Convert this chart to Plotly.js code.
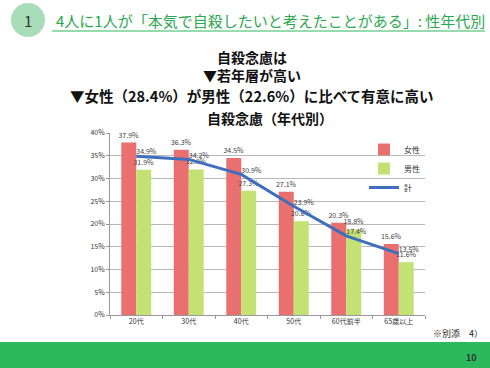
<!DOCTYPE html>
<html><head><meta charset="utf-8">
<script src="https://cdn.plot.ly/plotly-3.0.1.min.js"></script>
<style>html,body{margin:0;padding:0;background:#fff;}#c{width:490px;height:368px;}</style>
</head><body><div id="c"></div>
<script>
const categories = ["20代","30代","40代","50代","60代前半","65歳以上"];
const female = [37.9, 36.3, 34.5, 27.1, 20.3, 15.6];
const male = [31.9, 32.0, 27.3, 20.6, 18.8, 11.6];
const total = [34.9, 34.2, 30.9, 23.9, 17.4, 13.5];
const yTicks = [0,5,10,15,20,25,30,35,40];
const yTickText = yTicks.map(v => v + "%");
const fmt = a => a.map(v => v.toFixed(1) + "%");

const F = '"Noto Sans CJK JP", "Noto Sans", sans-serif';
const lblFont = {family: F, size: 7, color: "#404040"};

const traces = [
  {type:"bar", name:"女性", x:categories, y:female, marker:{color:"#ea7070"},
   text:fmt(female), textposition:"outside", constraintext:"none", textfont:lblFont, cliponaxis:false, hoverinfo:"none"},
  {type:"bar", name:"男性", x:categories, y:male, marker:{color:"#c4e274"},
   text:fmt(male), textposition:"outside", constraintext:"none", textfont:lblFont, cliponaxis:false, hoverinfo:"none"},
  {type:"scatter", mode:"lines+text", name:"計", x:categories, y:total,
   line:{color:"#3e6fbf", width:3}, text:fmt(total), textposition:"top right",
   textfont:lblFont, cliponaxis:false, hoverinfo:"none"}
];

const px = x => (x - 110) / 315;
const py = y => (315 - y) / 182;
const ann = (x, y, text, font) => ({xref:"paper", yref:"paper", x:px(x), y:py(y), text:text,
  showarrow:false, xanchor:"center", yanchor:"middle", font:font});

const layout = {
  width:490, height:368,
  margin:{l:110, r:65, t:133, b:53},
  paper_bgcolor:"#fff", plot_bgcolor:"#fff",
  barmode:"group", bargap:0.43, bargroupgap:0,
  showlegend:true,
  legend:{x:px(364), y:py(135), xanchor:"left", yanchor:"top",
          font:{family:F, size:8, color:"#333"}, bgcolor:"rgba(0,0,0,0)",
          tracegroupgap:0, itemwidth:30},
  xaxis:{showgrid:false, showline:true, linecolor:"#999", ticks:"outside",
         tickson:"boundaries", ticklen:3, tickcolor:"#999",
         tickfont:{family:F, size:7, color:"#333"}, fixedrange:true},
  yaxis:{range:[0,40], tickvals:yTicks, ticktext:yTickText, showgrid:true,
         gridcolor:"#b8b8b8", gridwidth:1, showline:true, linecolor:"#999",
         ticks:"outside", ticklen:3, tickcolor:"#999",
         tickfont:{family:F, size:7, color:"#333"}, zeroline:false, fixedrange:true},
  shapes:[
    {type:"circle", xref:"paper", yref:"paper", x0:px(11), x1:px(45), y0:py(37), y1:py(3),
     fillcolor:"#a9dcb9", line:{width:0}},
    {type:"line", xref:"paper", yref:"paper", x0:px(52), x1:px(485), y0:py(31), y1:py(31),
     line:{color:"#2db85c", width:1}},
    {type:"rect", xref:"paper", yref:"paper", x0:px(0), x1:px(490), y0:py(368), y1:py(342),
     fillcolor:"#2cb85c", line:{width:0}}
  ],
  annotations:[
    ann(28, 20, "1", {family:F, size:15, color:"#333"}),
    ann(270, 20, "4人に1人が「本気で自殺したいと考えたことがある」: 性年代別", {family:F, size:15, color:"#2aa84e"}),
    ann(252, 57, "<b>自殺念慮は</b>", {family:F, size:14, color:"#111"}),
    ann(252, 75, "<b>▼若年層が高い</b>", {family:F, size:14, color:"#111"}),
    ann(252, 95, "<b>▼女性（28.4%）が男性（22.6%）に比べて有意に高い</b>", {family:F, size:14.5, color:"#111"}),
    ann(270, 118, "<b>自殺念慮（年代別）</b>", {family:F, size:14, color:"#111"}),
    ann(458, 333, "※別添　4）", {family:F, size:9, color:"#222"}),
    ann(471, 357, "<b>10</b>", {family:F, size:9, color:"#333"})
  ]
};

Plotly.newPlot("c", traces, layout, {displayModeBar:false, staticPlot:true});
</script></body></html>
